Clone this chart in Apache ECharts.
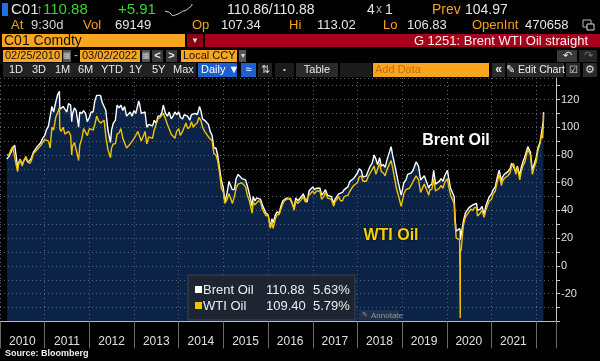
<!DOCTYPE html>
<html><head><meta charset="utf-8">
<script src="https://cdn.jsdelivr.net/npm/echarts@6/dist/echarts.min.js"></script>
<style>html,body{margin:0;padding:0;background:#000;}#c{width:600px;height:361px;}</style>
</head><body><div id="c"></div>
<script>
// ---------------- DATA ----------------
const dates = [
'2010-02-25','2010-03-01','2010-03-15','2010-04-01','2010-04-15','2010-05-01','2010-05-15','2010-05-25','2010-06-01','2010-06-15','2010-07-01','2010-07-15','2010-08-01','2010-08-15','2010-09-01','2010-09-15','2010-10-01','2010-10-15','2010-11-01','2010-11-15','2010-12-01','2010-12-15',
'2011-01-01','2011-01-15','2011-02-01','2011-02-15','2011-03-01','2011-03-15','2011-04-01','2011-04-15','2011-05-01','2011-05-05','2011-05-15','2011-06-01','2011-06-15','2011-07-01','2011-07-15','2011-08-01','2011-08-10','2011-08-15','2011-09-01','2011-09-15','2011-10-01','2011-10-05','2011-10-15','2011-11-01','2011-11-15','2011-12-01','2011-12-15',
'2012-01-01','2012-01-15','2012-02-01','2012-02-15','2012-03-01','2012-03-15','2012-04-01','2012-04-15','2012-05-01','2012-05-15','2012-06-01','2012-06-15','2012-06-22','2012-07-01','2012-07-15','2012-08-01','2012-08-15','2012-09-01','2012-09-15','2012-10-01','2012-10-15','2012-11-01','2012-11-15','2012-12-01','2012-12-15',
'2013-01-01','2013-01-15','2013-02-01','2013-02-08','2013-02-15','2013-03-01','2013-03-15','2013-04-01','2013-04-15','2013-05-01','2013-05-15','2013-06-01','2013-06-15','2013-07-01','2013-07-15','2013-08-01','2013-08-15','2013-08-28','2013-09-15','2013-10-01','2013-10-15','2013-11-01','2013-11-15','2013-12-01','2013-12-15',
'2014-01-01','2014-01-15','2014-02-01','2014-02-15','2014-03-01','2014-03-15','2014-04-01','2014-04-15','2014-05-01','2014-05-15','2014-06-01','2014-06-15','2014-06-20','2014-07-01','2014-07-15','2014-08-01','2014-08-15','2014-09-01','2014-09-15','2014-10-01','2014-10-15','2014-11-01','2014-11-15','2014-12-01','2014-12-15',
'2015-01-01','2015-01-13','2015-02-01','2015-02-15','2015-03-01','2015-03-15','2015-04-01','2015-04-15','2015-05-01','2015-05-15','2015-06-01','2015-06-15','2015-07-01','2015-07-15','2015-08-01','2015-08-24','2015-09-01','2015-09-15','2015-10-01','2015-10-15','2015-11-01','2015-11-15','2015-12-01','2015-12-15',
'2016-01-01','2016-01-20','2016-02-01','2016-02-11','2016-03-01','2016-03-15','2016-04-01','2016-04-15','2016-05-01','2016-05-15','2016-06-01','2016-06-15','2016-07-01','2016-07-15','2016-08-01','2016-08-15','2016-09-01','2016-09-15','2016-10-01','2016-10-15','2016-11-01','2016-11-15','2016-12-01','2016-12-15',
'2017-01-01','2017-01-15','2017-02-01','2017-02-15','2017-03-01','2017-03-15','2017-04-01','2017-04-15','2017-05-01','2017-05-15','2017-06-01','2017-06-21','2017-07-01','2017-07-15','2017-08-01','2017-08-15','2017-09-01','2017-09-15','2017-10-01','2017-10-15','2017-11-01','2017-11-15','2017-12-01','2017-12-15',
'2018-01-01','2018-01-15','2018-02-01','2018-02-15','2018-03-01','2018-03-15','2018-04-01','2018-04-15','2018-05-01','2018-05-17','2018-06-01','2018-06-15','2018-07-01','2018-07-15','2018-08-01','2018-08-15','2018-09-01','2018-09-15','2018-10-03','2018-10-15','2018-11-01','2018-11-15','2018-12-01','2018-12-24',
'2019-01-01','2019-01-15','2019-02-01','2019-02-15','2019-03-01','2019-03-15','2019-04-01','2019-04-25','2019-05-15','2019-06-01','2019-06-15','2019-07-01','2019-07-15','2019-08-07','2019-08-15','2019-09-01','2019-09-16','2019-10-01','2019-10-15','2019-11-01','2019-11-15','2019-12-01','2019-12-15',
'2020-01-06','2020-01-15','2020-02-01','2020-02-15','2020-03-01','2020-03-09','2020-03-18','2020-04-01','2020-04-15','2020-04-20','2020-04-21','2020-04-28','2020-05-15','2020-06-01','2020-06-15','2020-07-01','2020-07-15','2020-08-01','2020-08-15','2020-09-01','2020-09-08','2020-10-01','2020-10-15','2020-11-02','2020-11-15','2020-12-01','2020-12-15',
'2021-01-01','2021-01-15','2021-02-01','2021-02-15','2021-03-05','2021-03-15','2021-03-23','2021-04-01','2021-04-15','2021-05-01','2021-05-15','2021-06-01','2021-06-15','2021-07-01','2021-07-19','2021-08-01','2021-08-20','2021-09-01','2021-09-15','2021-10-01','2021-10-25','2021-11-01','2021-11-15','2021-12-01','2021-12-15',
'2022-01-01','2022-01-15','2022-02-01','2022-02-14','2022-02-23','2022-03-01','2022-03-02'
];
const brent = [
77,78,79,82,85,87,78,70,74,77,73,76,78,75,76,78,82,83,86,86,89,92,
94,98,101,102,115,111,118,123,126,113,112,115,113,111,117,116,104,109,114,112,103,100,111,110,112,110,104,
107,111,111,119,123,124,123,118,119,112,98,97,89,98,103,105,116,114,116,112,115,108,109,111,108,
112,110,116,119,117,110,109,111,100,102,102,101,105,103,108,108,110,116,110,108,111,106,108,111,109,
111,107,106,109,110,108,105,109,108,110,109,113,115,112,106,105,104,102,97,94,85,85,80,70,62,
56,46,53,61,62,55,55,63,66,66,63,63,62,58,52,43,50,47,49,49,48,44,44,38,
37,28,34,31,37,39,38,43,47,48,49,48,48,47,42,49,47,46,50,52,48,46,54,55,
57,55,56,56,56,51,53,55,51,51,50,45,48,49,52,51,53,55,56,57,61,62,63,63,
67,70,69,64,64,65,69,72,74,80,77,73,78,72,73,71,77,78,86,80,73,67,60,51,
54,60,62,66,65,67,69,75,72,62,62,65,66,56,58,59,69,59,58,61,63,61,65,
69,64,56,57,50,34,25,25,27,25,19,20,32,38,40,42,43,44,45,45,40,41,43,37,43,47,50,
52,55,57,63,69,68,61,64,66,67,68,70,74,75,68,72,65,71,75,79,86,85,82,69,73,
78,85,89,96,97,105,110.88
];
const wti = [
80,80,80,84,86,87,72,68,73,77,72,76,79,75,74,76,81,82,84,84,87,89,
91,91,90,85,100,98,107,110,114,99,97,100,95,95,97,94,80,86,89,89,78,76,87,92,99,100,94,
99,99,98,102,108,105,103,103,105,93,84,84,78,85,88,88,95,96,99,92,91,85,86,88,87,
92,94,97,97,96,90,93,97,88,93,94,92,98,99,106,107,107,110,106,102,101,95,94,92,97,
99,94,97,100,103,99,100,104,100,102,103,107,107,105,100,97,97,93,93,90,81,80,76,67,56,
53,45,48,52,49,45,50,56,59,60,60,60,57,51,47,38,46,44,45,47,46,41,41,36,
37,27,32,27,34,37,37,41,45,47,48,48,49,46,40,47,45,44,48,50,46,45,51,52,
54,52,54,53,54,48,50,53,49,49,48,43,46,47,50,47,47,50,51,51,54,56,58,57,
60,64,65,61,61,61,65,67,68,72,66,65,74,68,67,65,70,69,76,71,63,56,51,43,
46,52,55,56,56,58,61,65,62,53,52,59,59,51,55,55,63,54,53,56,58,56,60,
63,58,51,52,45,31,20,20,19,-37.6,10,12,29,35,37,39,41,40,42,42,36,38,40,35,40,44,47,
48,52,54,60,66,65,58,61,63,64,65,67,72,74,66,71,62,68,72,75,84,84,80,66,71,
75,83,88,95,92,103,109.40
];
const seriesNames = ['Brent Oil','WTI Oil'];
const legendPct = ['5.63%','5.79%'];
const yearLabels = ['2010','2011','2012','2013','2014','2015','2016','2017','2018','2019','2020','2021'];
const yLabelValues = [-20,0,20,40,60,80,100,120];

// ---------------- HELPERS ----------------
function fy(s){const p=s.split('-').map(Number);const a=Date.UTC(p[0],0,1),b=Date.UTC(p[0]+1,0,1);return p[0]+(Date.UTC(p[0],p[1]-1,p[2])-a)/(b-a);}
const brentData = dates.map((d,i)=>[fy(d),brent[i]]);
const wtiData = dates.map((d,i)=>[fy(d),wti[i]]);
const lastB = brent[brent.length-1], lastW = wti[wti.length-1];
const FONT = '"Liberation Sans", Arial, sans-serif';
function T(x,y,text,fill,size,weight,align,extra){
  const st = Object.assign({text:text,fill:fill,font:(weight||'normal')+' '+size+'px '+FONT,
    textAlign:align||'left',textVerticalAlign:'middle',align:align||'left',verticalAlign:'middle'}, extra||{});
  return {type:'text',x:x,y:y,z:101,silent:true,style:st};
}
function R(x,y,w,h,fill,stroke){return {type:'rect',z:100,silent:true,shape:{x:x,y:y,width:w,height:h},style:{fill:fill,stroke:stroke||null,lineWidth:stroke?1:0}};}

const OR='#f6a21e', WH='#e6e6e6', GR='#35d435';
const g = [];
// Row 1
g.push(R(2,3,6,13,'#1f6fe0'));
g.push(T(11,10,'C01',WH,15));
g.push(T(36,10,'\u2191',GR,14));
g.push(T(43,10,'110.88',GR,15));
g.push(T(118,10,'+5.91',GR,15));
g.push(T(227,10,'110.86/110.88',WH,14));
g.push(T(367,10,'4',WH,14)); g.push(T(376,10,'x','#aaa',12)); g.push(T(385,10,'1',WH,14));
g.push(T(432,10,'Prev',OR,14)); g.push(T(465,10,'104.97',WH,14));
// Row 2
const r2=25;
g.push(T(11,r2,'At',OR,13)); g.push(T(31,r2,'9:30d','#d8d8d8',13));
g.push(T(83,r2,'Vol',OR,13)); g.push(T(115,r2,'69149',WH,13));
g.push(T(192,r2,'Op',OR,13)); g.push(T(221,r2,'107.34',WH,13));
g.push(T(289,r2,'Hi',OR,13)); g.push(T(317,r2,'113.02',WH,13));
g.push(T(383,r2,'Lo',OR,13)); g.push(T(407,r2,'106.83',WH,13));
g.push(T(472,r2,'OpenInt',OR,13)); g.push(T(525,r2,'470658',WH,13));
g.push(R(583,20,8,7,null,'#bbb')); g.push(R(587,24,7,6,'#000','#ddd'));
// Row 3
g.push(R(2,34,183,13,'#f9a51f'));
g.push(T(4,41,'C01 Comdty','#111',14));
g.push(R(187,34,16,13,'#8c0012'));
g.push(T(195,41,'\u25BC','#ddd',8,'normal','center'));
g.push(R(205,34,395,13,'#a8001a'));
g.push(T(588,41,'G 1251: Brent WTI Oil straight','#f2f2f2',13,'normal','right'));
// Row 4
const r4=56;
g.push(R(3,50,59,12,'#f9a51f')); g.push(T(5,r4,'02/25/2010','#111',11));
g.push(R(63,50,8,12,'#555')); g.push(T(67,r4,'\u25A6','#ccc',8,'normal','center'));
g.push(T(74,r4,'-',OR,12));
g.push(R(80,50,60,12,'#f9a51f')); g.push(T(82,r4,'03/02/2022','#111',11));
g.push(R(142,50,8,12,'#555')); g.push(T(146,r4,'\u25A6','#ccc',8,'normal','center'));
g.push(R(152,50,11,12,'#3a3a3a')); g.push(T(157.5,r4,'<','#eee',11,'bold','center'));
g.push(R(166,50,11,12,'#3a3a3a')); g.push(T(171.5,r4,'>','#eee',11,'bold','center'));
g.push(R(181,50,56,12,'#f9a51f')); g.push(T(183,r4,'Local CCY','#111',11));
g.push(R(239,50,7,12,'#555')); g.push(T(242.5,r4,'\u25BE','#ddd',8,'normal','center'));
g.push(R(557,50,20,12,'#3a3a3a')); g.push(T(567,r4,'\u21B6','#eee',11,'normal','center'));
g.push(R(579,50,18,12,'#262626')); g.push(T(588,r4,'\u21B7','#777',11,'normal','center'));
// Row 5
const r5=70;
g.push(R(3,63,193,14,'#222'));
[['1D',9],['3D',32],['1M',55],['6M',78],['YTD',101],['1Y',129],['5Y',152],['Max',173]].forEach(a=>g.push(T(a[1],r5,a[0],'#e8e8e8',11)));
g.push(R(198,63,39,14,'#1d5fcf')); g.push(T(201,r5,'Daily \u25BC','#fff',11));
g.push(R(241,63,15,14,'#1d5fcf')); g.push(T(248.5,r5,'\u2248','#fff',11,'normal','center'));
g.push(R(258,63,14,14,'#222')); g.push(T(265,r5,'\u21C5','#ddd',11,'normal','center'));
g.push(R(275,63,19,14,'#1b1b1b')); g.push(T(284.5,r5,'\u2022','#ddd',8,'normal','center'));
g.push(R(296,63,42,14,'#2a2a2a')); g.push(T(317,r5,'Table','#e8e8e8',11,'normal','center'));
g.push(R(340,63,32,14,'#1b1b1b'));
g.push(R(373,63,116,14,'#f9a51f')); g.push(T(375,r5,'Add Data','#c4700a',11));
g.push(R(492,63,13,14,'#2a2a2a')); g.push(T(498.5,r5,'\u00AB','#eee',12,'bold','center'));
g.push(R(507,63,57,14,'#2a2a2a')); g.push(T(535.5,r5,'\u270E Edit Chart','#eee',10.5,'normal','center'));
g.push(R(566,63,14,14,'#2a2a2a')); g.push(T(573,r5,'\u2611','#ddd',10,'normal','center'));
g.push(R(583,63,14,14,'#2a2a2a')); g.push(T(590,r5,'\u2699','#ddd',11,'normal','center'));
// annotations
g.push(T(456,141,seriesNames[0],'#ffffff',16,'bold','center',{textShadowColor:'#000',textShadowBlur:2}));
g.push(T(391,236,seriesNames[1],'#f7d000',16,'bold','center',{textShadowColor:'#000',textShadowBlur:2}));
// legend box
g.push(R(188,275,167,45,'#1c2531','#394454'));
g.push(R(195,286,7,7,'#ffffff')); g.push(T(203,290,seriesNames[0],'#eee',13)); g.push(T(266,290,lastB.toFixed(2),'#eee',13)); g.push(T(313,290,legendPct[0],'#eee',13));
g.push(R(195,302,7,7,'#f2c200')); g.push(T(203,306,seriesNames[1],'#eee',13)); g.push(T(266,306,lastW.toFixed(2),'#eee',13)); g.push(T(313,306,legendPct[1],'#eee',13));
g.push(R(359,310,40,10,'#233047')); g.push(T(362,315.5,'\u270E','#8a96a8',7)); g.push(T(371,315.5,'Annotate','#8a96a8',8));
// source
g.push(T(5,354,'Source: Bloomberg','#f0f0f0',9,'bold'));

const chart = echarts.init(document.getElementById('c'),null,{renderer:'canvas'});
const dotted = {show:true,lineStyle:{color:'#56606f',type:[1,3],width:1}};
chart.setOption({
  backgroundColor:'#000',
  animation:false,
  grid:[
    {left:-4,right:44,top:78,bottom:39.6},
    {left:165,top:4,width:27,height:12},
    {left:-4.3,right:64.3,top:78,bottom:39.6}
  ],
  xAxis:[
    {gridIndex:0,type:'value',position:'bottom',min:2010,max:2022.444,interval:1,z:3,
     axisLine:{show:true,onZero:false,lineStyle:{color:'#bdbdbd',width:1}},
     axisTick:{show:true,length:27,lineStyle:{color:'#6a6a6a'}},
     axisLabel:{show:false},splitLine:dotted},
    {gridIndex:1,type:'value',show:false,min:'dataMin',max:'dataMax'},
    {gridIndex:2,type:'category',position:'bottom',data:yearLabels,boundaryGap:true,z:3,
     axisLine:{show:false},axisTick:{show:false},splitLine:{show:false},
     axisLabel:{show:true,interval:0,color:'#e0e0e0',fontSize:12,fontFamily:FONT,margin:14}}
  ],
  yAxis:[
    {gridIndex:0,type:'value',position:'right',min:-40,max:135.5,interval:10,z:3,
     axisLine:{show:true,lineStyle:{color:'#c8c8c8',width:1}},
     axisTick:{show:true,length:4,lineStyle:{color:'#c8c8c8'}},
     axisLabel:{show:true,color:'#e0e0e0',fontSize:11,fontFamily:FONT,margin:5,showMaxLabel:false,
       formatter:v=>yLabelValues.indexOf(v)>=0?String(v):''},
     splitLine:dotted},
    {gridIndex:1,type:'value',show:false,min:'dataMin',max:'dataMax'},
    {gridIndex:2,type:'value',show:false,min:0,max:1}
  ],
  series:[
    {type:'line',name:'area',data:brentData,xAxisIndex:0,yAxisIndex:0,showSymbol:false,symbol:'none',z:1,silent:true,
     lineStyle:{width:0},areaStyle:{color:'#0b2346',opacity:1,origin:'start'}},
    {type:'line',name:seriesNames[0],data:brentData,xAxisIndex:0,yAxisIndex:0,showSymbol:false,symbol:'none',z:4,
     lineStyle:{color:'#ffffff',width:1.4},
     markLine:{silent:true,symbol:'none',lineStyle:{opacity:0},
       data:[{yAxis:lastB}],
       label:{show:true,position:'end',distance:4,formatter:()=>lastB.toFixed(2),color:'#000',backgroundColor:'#ffffff',
         padding:[2,3,1,3],fontSize:12,fontFamily:FONT}}},
    {type:'line',name:seriesNames[1],data:wtiData,xAxisIndex:0,yAxisIndex:0,showSymbol:false,symbol:'none',z:5,
     lineStyle:{color:'#f2c200',width:1.4}},
    {type:'line',name:'spark',data:brentData.slice(-12),xAxisIndex:1,yAxisIndex:1,showSymbol:false,symbol:'none',z:5,
     lineStyle:{color:'#cfcfcf',width:1}}
  ],
  graphic:g
});
</script>
</body></html>
